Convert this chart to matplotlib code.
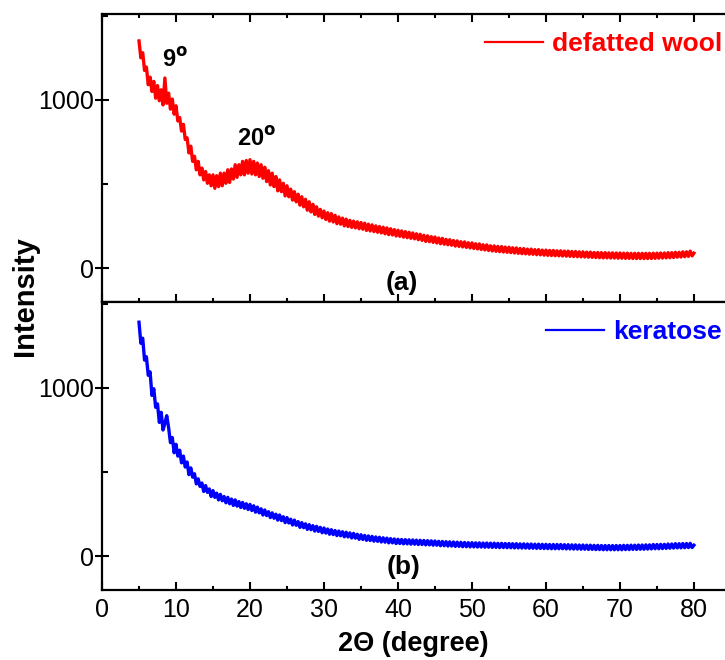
import numpy as np
import matplotlib
matplotlib.use('Agg')
import matplotlib.pyplot as plt
from matplotlib.ticker import MultipleLocator

plt.rcParams['font.family'] = ['Liberation Sans', 'DejaVu Sans']

# 2-theta grid, 0.25 degree step from 5 to 80
two_theta = np.arange(5, 80.01, 0.25)

# defatted wool, 4 readings per degree (5.00, 5.25, 5.50, 5.75 ...)
wool = [
    1350, 1250, 1280, 1175,
    1195, 1090, 1135, 1050,
    1110, 1010, 1085, 995,
    1060, 970, 1130, 980,
    1040, 945, 1005, 915,
    965, 875, 895, 815,
    855, 765, 775, 685,
    725, 635, 665, 585,
    635, 555, 595, 525,
    575, 505, 555, 490,
    555, 475, 550, 485,
    565, 490, 565, 505,
    585, 510, 590, 530,
    615, 540, 615, 555,
    635, 555, 640, 565,
    645, 560, 635, 555,
    625, 545, 615, 535,
    600, 515, 580, 495,
    565, 485, 545, 460,
    525, 455, 505, 430,
    490, 425, 470, 405,
    455, 395, 440, 375,
    425, 365, 410, 345,
    395, 335, 380, 320,
    365, 310, 350, 300,
    340, 290, 330, 280,
    325, 275, 315, 265,
    305, 262, 298, 252,
    292, 248, 285, 243,
    280, 240, 276, 235,
    272, 232, 268, 225,
    262, 222, 258, 218,
    252, 214, 248, 210,
    244, 205, 240, 200,
    235, 198, 230, 192,
    226, 190, 222, 185,
    218, 182, 214, 178,
    210, 175, 205, 170,
    202, 166, 196, 160,
    193, 158, 188, 154,
    186, 150, 180, 146,
    178, 143, 172, 140,
    170, 137, 165, 132,
    163, 130, 158, 127,
    157, 124, 152, 121,
    151, 118, 146, 115,
    145, 112, 140, 109,
    139, 106, 134, 103,
    133, 101, 130, 99,
    129, 97, 126, 95,
    125, 93, 122, 91,
    121, 89, 118, 87,
    117, 86, 114, 84,
    114, 83, 111, 81,
    111, 80, 108, 78,
    108, 77, 106, 76,
    106, 75, 104, 74,
    104, 73, 102, 72,
    102, 71, 100, 70,
    100, 69, 98, 68,
    98, 67, 96, 66,
    96, 65, 94, 64,
    94, 63, 93, 62,
    93, 62, 92, 61,
    92, 61, 91, 60,
    91, 60, 90, 59,
    90, 59, 89, 58,
    89, 58, 89, 58,
    89, 58, 89, 58,
    89, 58, 90, 59,
    90, 60, 91, 61,
    91, 62, 93, 63,
    93, 64, 95, 66,
    95, 67, 98, 69,
    98, 71, 102, 74,
    90,
]

# keratose
keratose = [
    1390, 1265, 1295, 1165,
    1185, 1075, 1095, 955,
    995, 885, 905, 795,
    855, 750, 790, 835,
    765, 675, 705, 615,
    665, 595, 630, 555,
    595, 530, 560, 485,
    525, 470, 490, 430,
    460, 415, 435, 385,
    420, 380, 400, 355,
    390, 350, 375, 335,
    368, 330, 355, 318,
    350, 312, 340, 302,
    335, 298, 325, 290,
    320, 285, 312, 278,
    308, 272, 300, 262,
    292, 258, 282, 245,
    275, 242, 265, 230,
    258, 226, 250, 215,
    245, 212, 235, 200,
    230, 198, 220, 186,
    215, 184, 206, 172,
    200, 170, 193, 160,
    188, 158, 182, 150,
    178, 148, 172, 140,
    168, 138, 162, 131,
    158, 129, 153, 123,
    150, 122, 146, 116,
    143, 115, 139, 109,
    136, 108, 131, 101,
    128, 100, 124, 95,
    121, 94, 118, 90,
    115, 89, 113, 85,
    110, 84, 108, 80,
    105, 80, 103, 76,
    101, 76, 100, 74,
    99, 74, 98, 72,
    97, 72, 96, 70,
    95, 70, 94, 68,
    93, 68, 92, 66,
    91, 66, 89, 63,
    88, 63, 87, 61,
    86, 61, 85, 59,
    84, 59, 83, 57,
    82, 57, 81, 56,
    81, 56, 80, 55,
    80, 55, 79, 54,
    79, 54, 78, 53,
    78, 53, 77, 52,
    77, 52, 76, 51,
    76, 51, 75, 50,
    75, 50, 74, 49,
    74, 49, 73, 48,
    73, 48, 72, 47,
    72, 47, 71, 46,
    71, 46, 70, 45,
    70, 45, 70, 45,
    70, 45, 69, 44,
    69, 44, 68, 43,
    68, 43, 67, 42,
    67, 42, 66, 41,
    66, 41, 65, 40,
    65, 40, 64, 39,
    64, 39, 64, 39,
    64, 39, 64, 39,
    64, 39, 65, 40,
    65, 40, 66, 41,
    66, 41, 67, 42,
    67, 42, 68, 43,
    68, 44, 70, 45,
    70, 45, 71, 46,
    71, 47, 73, 48,
    73, 49, 75, 50,
    75, 50, 76, 51,
    76, 52, 77, 52,
    66,
]

fig = plt.figure(figsize=(7.25, 6.6), dpi=100)
left = 102 / 725
ax1 = fig.add_axes([left, 1 - 302 / 660, 1 - left, 288 / 660])
ax2 = fig.add_axes([left, 1 - 590 / 660, 1 - left, 288 / 660])

panels = [
    (ax1, wool, '#ff0000', 'defatted wool'),
    (ax2, keratose, '#0000ff', 'keratose'),
]

for ax, y, col, lab in panels:
    ax.plot(two_theta, y, color=col, lw=2.4, label=lab)
    ax.set_xlim(0, 84.2)
    ax.set_ylim(-200, 1510)
    ax.spines['right'].set_visible(False)
    for s in ['left', 'top', 'bottom']:
        ax.spines[s].set_linewidth(1.6)
    ax.xaxis.set_major_locator(MultipleLocator(10))
    ax.xaxis.set_minor_locator(MultipleLocator(5))
    ax.yaxis.set_major_locator(MultipleLocator(1000))
    ax.yaxis.set_minor_locator(MultipleLocator(500))
    ax.tick_params(axis='x', which='major', direction='in', length=6, width=1.5, labelsize=18, pad=6)
    ax.tick_params(axis='x', which='minor', direction='in', length=3, width=1.5)
    ax.tick_params(axis='y', which='major', direction='inout', length=10, width=1.5, labelsize=18, pad=1)
    ax.tick_params(axis='y', which='minor', direction='in', length=4, width=1.5)
    leg = ax.legend(loc='upper right', bbox_to_anchor=(1.025, 1.0), frameon=False,
                    handlelength=2.2, handletextpad=0.35, borderaxespad=0.3,
                    prop={'size': 19, 'weight': 'bold'}, labelcolor=col)
    leg.get_lines()[0].set_linewidth(1.6)

ax1.tick_params(axis='x', which='both', top=True, labelbottom=False)
ax2.tick_params(axis='x', which='both', top=False)

ax1.text(9.8, 1240, r'9$^{\mathbf{o}}$', fontsize=17, fontweight='bold', ha='center', va='center')
ax1.text(20.9, 768, r'20$^{\mathbf{o}}$', fontsize=17, fontweight='bold', ha='center', va='center')
ax1.text(40.5, -89, '(a)', fontsize=19, fontweight='bold', ha='center', va='center')
ax2.text(40.7, -65, '(b)', fontsize=19, fontweight='bold', ha='center', va='center')

ax2.set_xlabel('2\u0398 (degree)', fontsize=19.5, fontweight='bold', labelpad=6)
fig.text(0.034, 1 - 296 / 660, 'Intensity', rotation=90, fontsize=21, fontweight='bold',
         ha='center', va='center')

fig.savefig('out.png', dpi=100)
